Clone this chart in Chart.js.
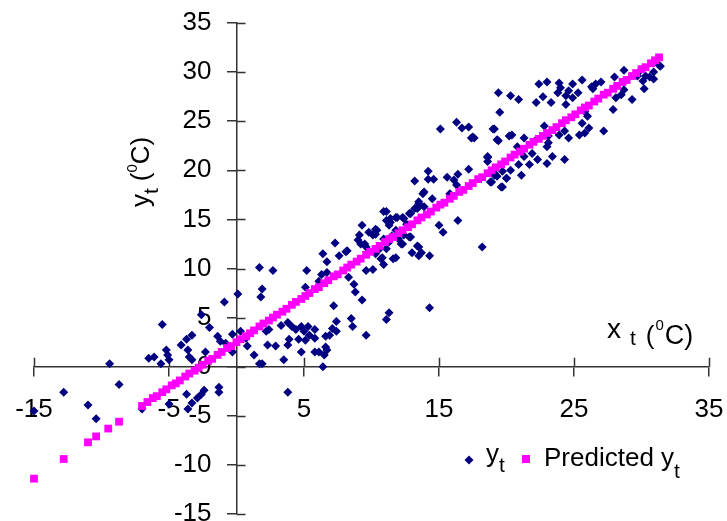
<!DOCTYPE html>
<html><head><meta charset="utf-8">
<script src="https://cdn.jsdelivr.net/npm/chart.js@4/dist/chart.umd.min.js"></script>
<style>html,body{margin:0;padding:0;background:#fff;}#wrap{width:727px;height:521px;}</style>
</head><body><div id="wrap"><canvas id="c" width="727" height="521"></canvas></div>
<script>
const xTicks = [-15, -5, 5, 15, 25, 35];
const yTicks = [-15, -10, -5, 0, 5, 10, 15, 20, 25, 30, 35];

// observed y_t (navy diamonds)
const obsX = [
-15.0,-12.8,-11.0,-10.4,-9.4,-8.7,-7.0,-6.5,-6.1,-5.5,-5.6,-5.2,-5.1,-5.0,-5.0,
-4.1,-3.7,-3.6,-3.5,-3.3,-3.3,-2.6,-2.0,-2.3,-1.4,-1.2,-0.8,-0.3,0.3,0.7,-0.3,0.8,1.3,1.7,-0.9,0.1,
-3.7,-3.6,-3.3,-2.9,-2.6,-2.4,-1.3,-1.3,3.8,
1.7,2.7,1.9,1.8,5.2,5.1,6.3,6.1,6.7,6.4,6.7,7.3,7.6,8.1,8.3,8.7,8.8,9.3,7.2,8.5,8.6,7.4,7.1,7.4,6.9,6.6,9.6,6.7,6.5,6.4,5.8,4.8,3.5,1.9,2.3,2.2,2.4,2.9,3.3,3.8,4.1,3.9,3.8,4.4,4.6,4.8,5.0,5.3,5.4,5.8,5.8,5.1,6.6,6.1,
9.3,9.8,10.3,10.9,11.1,11.4,11.8,12.3,12.8,13.2,13.5,9.2,9.6,8.2,9.6,10.7,10.3,10.9,11.3,11.8,12.3,12.4,12.9,13.0,13.7,13.4,14.3,15.0,15.3,16.4,11.1,11.3,14.3,10.1,9.1,9.5,11.1,10.8,11.6,12.2,12.8,13.5,13.5,18.2,10.1,10.3,11.1,11.3,11.8,10.4,9.0,10.6,12.0,12.6,10.9,11.5,
19.5,16.3,15.1,16.7,17.2,17.5,19.0,19.4,18.6,17.2,16.4,15.6,14.2,13.2,14.2,14.6,16.1,16.3,13.9,14.5,15.8,13.5,13.9,13.4,12.9,12.4,11.9,11.4,18.6,18.9,19.3,19.7,20.0,19.1,13.8,17.4,
19.4,20.3,20.9,22.4,23.0,23.9,24.0,23.8,22.7,22.2,23.3,24.4,24.6,24.9,24.9,25.3,25.6,24.4,25.8,26.0,26.3,26.6,27.0,26.4,25.6,26.1,25.8,25.4,24.6,24.3,23.9,23.1,23.0,22.8,27.2,27.9,28.0,28.7,28.1,28.5,28.7,29.3,29.7,30.2,30.1,30.6,30.9,31.3,19.1,17.6,20.2,20.4,21.3,19.3,20.8,22.2,23.1,21.3,21.9,22.3,23.4,23.0,24.3,21.7,20.9,21.1,20.3,19.7,20.0,19.1,18.8,19.6,18.6,29.8,30.3,30.9,31.4
];
const obsY = [
-4.5,-2.6,-3.9,-5.3,0.3,-1.8,-4.3,0.85,1.0,4.3,0.3,1.7,1.2,0.7,-3.8,
2.2,2.8,1.7,1.0,3.2,0.7,5.3,4.0,1.5,3.1,2.6,2.4,3.3,3.6,2.9,1.5,2.1,1.2,0.3,6.6,7.4,
-2.8,-4.3,-3.7,-3.2,-2.8,-2.4,-2.1,-2.6,-2.6,
10.1,9.8,7.9,7.1,9.8,8.1,9.4,8.7,9.6,11.5,10.7,12.6,11.3,11.7,9.1,8.4,7.6,6.8,6.2,4.9,4.1,4.6,3.9,3.6,3.2,3.1,3.2,1.7,1.2,0.0,1.5,1.5,0.7,0.3,2.2,3.6,3.8,2.1,4.2,4.5,4.1,2.8,2.2,3.8,2.8,4.1,3.6,4.1,3.2,3.8,2.9,2.7,2.0,1.5,
14.4,13.7,13.5,15.8,14.9,14.7,15.2,15.2,15.6,16.1,16.6,12.5,12.2,11.8,9.8,11.0,11.5,10.4,12.7,11.1,12.5,13.4,13.2,11.6,11.6,12.3,11.3,14.4,13.7,14.9,4.8,5.5,6.0,13.4,13.4,12.5,12.0,11.1,11.0,12.5,13.2,12.2,11.3,12.2,9.9,14.0,15.8,14.4,13.9,13.9,12.9,12.0,13.0,14.5,13.0,13.3,
25.9,24.9,24.2,24.3,24.4,23.4,24.2,23.0,21.3,20.1,19.6,19.3,19.9,18.9,19.1,19.1,19.0,18.5,17.8,17.1,17.6,16.8,16.3,16.1,15.6,15.1,15.2,15.1,20.9,18.8,19.4,18.3,19.2,19.7,17.6,23.3,
27.9,27.6,27.2,28.8,29.0,28.9,28.4,27.9,27.5,26.9,26.9,27.6,28.1,28.8,27.4,27.9,29.2,26.7,26.0,25.5,28.5,28.8,29.0,28.3,24.8,24.3,23.8,23.6,23.3,24.0,23.6,22.8,22.4,24.5,24.0,26.2,29.5,30.2,27.4,27.7,28.2,27.2,29.6,28.3,29.1,29.5,30.0,30.7,24.2,23.3,23.5,23.6,23.3,23.1,22.4,23.1,23.5,21.4,21.7,21.1,21.4,20.7,21.1,20.6,20.6,19.5,20.0,19.9,19.2,19.5,18.8,18.3,21.4,30.0,29.6,29.3,30.6
];

// predicted y_t (magenta squares)
const predX = [
-15.0,-12.8,-11.0,-10.4,-9.5,-8.7,-7.0,-6.6,-6.2,-5.9,-5.5,-5.2,-4.8,-4.5,-4.2,-3.8,-3.5,-3.1,-2.8,-2.5,-2.1,-1.8,-1.4,-1.1,-0.7,-0.4,
0.0,0.3,0.7,1.0,1.3,1.7,2.0,2.4,2.7,3.0,3.4,3.7,4.1,4.4,4.8,5.1,5.4,5.8,6.1,6.5,6.8,7.2,7.5,7.9,8.2,8.5,8.9,9.2,9.6,9.9,
10.3,10.6,11.0,11.3,11.6,12.0,12.3,12.7,13.0,13.4,13.7,14.1,14.4,14.8,15.1,15.4,15.8,16.1,16.5,16.8,17.2,17.5,17.9,18.2,18.6,18.9,19.2,19.6,19.9,
20.3,20.6,21.0,21.3,21.7,22.0,22.4,22.7,23.0,23.4,23.7,24.1,24.4,24.8,25.1,25.5,25.8,26.1,26.5,26.8,27.2,27.5,27.9,28.2,28.6,28.9,29.3,29.6,30.0,30.3,30.7,31.0,31.3
];
const predY = [
-11.4,-9.4,-7.7,-7.1,-6.3,-5.6,-4.0,-3.6,-3.2,-3.0,-2.6,-2.3,-1.9,-1.7,-1.4,-1.0,-0.7,-0.4,-0.1,0.2,0.6,0.8,1.2,1.5,1.9,2.1,
2.5,2.8,3.1,3.4,3.7,4.1,4.4,4.7,5.0,5.3,5.6,5.9,6.3,6.6,6.9,7.2,7.5,7.9,8.1,8.5,8.8,9.2,9.4,9.8,10.1,10.4,10.7,11.0,11.4,11.7,
12.0,12.3,12.7,13.0,13.2,13.6,13.9,14.2,14.5,14.9,15.2,15.5,15.8,16.2,16.5,16.7,17.1,17.4,17.8,18.0,18.4,18.7,19.1,19.3,19.7,20.0,20.3,20.6,20.9,
21.3,21.6,21.9,22.2,22.6,22.9,23.2,23.5,23.8,24.1,24.4,24.8,25.1,25.4,25.7,26.1,26.4,26.6,27.0,27.3,27.7,27.9,28.3,28.6,29.0,29.2,29.6,29.9,30.3,30.5,30.9,31.2,31.5
];

const seriesNames = ['y', 'Predicted y'];
const NAVY = '#000080', MAG = '#FF00FF', AX = '#333333';
const FONT = "'Liberation Sans', Arial, sans-serif";

function setTicks(list) { return function (s) { s.ticks = list.map(v => ({ value: v })); }; }

function drawParts(ctx, parts, x, y) {
  let cx = x;
  parts.forEach(p => {
    ctx.font = p.size + 'px ' + FONT;
    if (p.gap) cx += p.gap;
    ctx.fillText(p.t, cx, y + (p.dy || 0));
    cx += ctx.measureText(p.t).width;
  });
}

const decor = {
  id: 'decor',
  beforeDatasetsDraw(chart) {
    const { ctx, scales } = chart;
    const x = scales.x, y = scales.y;
    const y0 = y.getPixelForValue(0), x0 = x.getPixelForValue(0);
    ctx.save();
    ctx.strokeStyle = AX; ctx.lineWidth = 1.5;
    ctx.beginPath();
    x.ticks.forEach(t => { const px = Math.round(x.getPixelForValue(t.value)) + 0.5; ctx.moveTo(px, y0 - 9); ctx.lineTo(px, y0); });
    y.ticks.forEach(t => { const py = Math.round(y.getPixelForValue(t.value)) + 0.5; ctx.moveTo(x0, py); ctx.lineTo(x0 + 9, py); });
    ctx.stroke();
    ctx.restore();
  },
  afterDraw(chart) {
    const ctx = chart.ctx;
    ctx.save();
    ctx.fillStyle = '#000';
    ctx.textBaseline = 'alphabetic';
    ctx.textAlign = 'left';
    // y axis title (rotated)
    ctx.save();
    ctx.translate(149, 207);
    ctx.rotate(-Math.PI / 2);
    drawParts(ctx, [
      { t: 'y', size: 26 }, { t: 't', size: 21, dy: 9 },
      { t: '(', size: 26, gap: 7 }, { t: '0', size: 15, dy: -12 }, { t: 'C)', size: 26 }
    ], 0, 0);
    ctx.restore();
    // x axis title
    drawParts(ctx, [
      { t: 'x', size: 28 }, { t: 't', size: 21, dy: 7, gap: 9 },
      { t: '(', size: 26, dy: 6, gap: 10 }, { t: '0', size: 15, dy: -8, gap: 1 }, { t: 'C)', size: 27, dy: 6, gap: 1 }
    ], 607, 338);
    // legend
    const lg = chart.data.datasets;
    const obs = lg[1], pre = lg[0];
    ctx.fillStyle = obs.backgroundColor;
    ctx.beginPath();
    ctx.moveTo(469, 455.5); ctx.lineTo(473.5, 460); ctx.lineTo(469, 464.5); ctx.lineTo(464.5, 460); ctx.closePath(); ctx.fill();
    ctx.fillStyle = pre.backgroundColor;
    ctx.fillRect(522, 455, 8, 8);
    ctx.fillStyle = '#000';
    drawParts(ctx, [{ t: seriesNames[0], size: 26 }, { t: 't', size: 21, dy: 10 }], 486, 462);
    drawParts(ctx, [{ t: seriesNames[1], size: 26 }, { t: 't', size: 21, dy: 12 }], 544, 466);
    ctx.restore();
  }
};

new Chart(document.getElementById('c'), {
  type: 'scatter',
  data: {
    datasets: [
      { label: seriesNames[1], data: predX.map((v, i) => ({ x: v, y: predY[i] })), pointStyle: 'rect', pointRadius: 5.5, pointHoverRadius: 5.5,
        backgroundColor: MAG, borderColor: MAG, borderWidth: 0, order: 0, clip: false },
      { label: seriesNames[0], data: obsX.map((v, i) => ({ x: v, y: obsY[i] })), pointStyle: 'rectRot', pointRadius: 4.5, pointHoverRadius: 4.5,
        backgroundColor: NAVY, borderColor: NAVY, borderWidth: 0, order: 1, clip: false }
    ]
  },
  options: {
    responsive: false, animation: false, devicePixelRatio: 1,
    layout: { padding: { left: 34, right: 18, top: 23, bottom: 7 } },
    plugins: { legend: { display: false }, tooltip: { enabled: false } },
    events: [],
    scales: {
      x: { type: 'linear', min: -15, max: 35, position: { y: 0 }, afterBuildTicks: setTicks(xTicks),
        grid: { display: true, drawOnChartArea: false, drawTicks: true, tickLength: 9, color: AX, lineWidth: 1.5 },
        border: { display: true, color: AX, width: 1.5 },
        ticks: { font: { family: FONT, size: 26, lineHeight: 2.65 }, color: '#000', padding: 0, maxRotation: 0, autoSkip: false } },
      y: { type: 'linear', min: -15, max: 35, position: { x: 0 }, afterBuildTicks: setTicks(yTicks),
        grid: { display: true, drawOnChartArea: false, drawTicks: true, tickLength: 9, color: AX, lineWidth: 1.5 },
        border: { display: true, color: AX, width: 1.5 },
        ticks: { display: false } },
      yl: { type: 'linear', min: -15, max: 35, position: { x: -1.85 }, afterBuildTicks: setTicks(yTicks),
        grid: { display: false }, border: { display: false },
        ticks: { font: { family: FONT, size: 26, lineHeight: 0.5 }, color: '#000', padding: 0, autoSkip: false } }
    }
  },
  plugins: [decor]
});
</script></body></html>
